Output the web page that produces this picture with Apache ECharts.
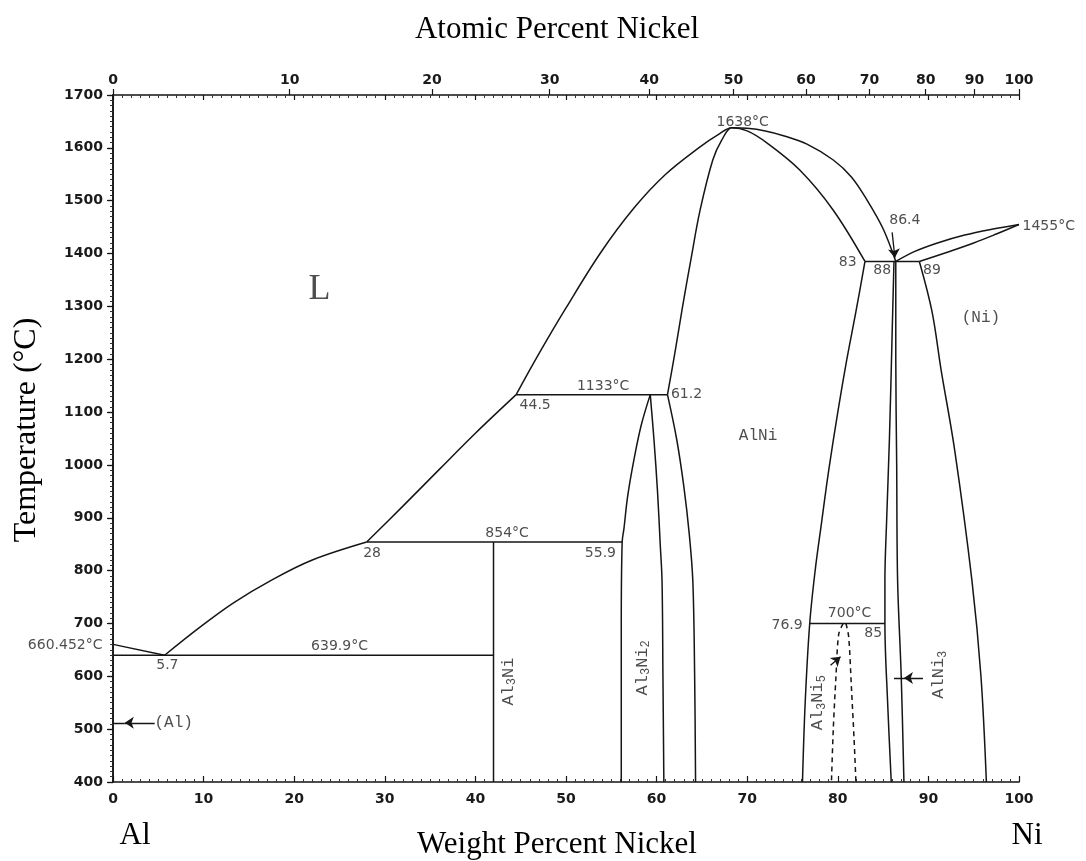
<!DOCTYPE html>
<html><head><meta charset="utf-8">
<script src="https://cdn.jsdelivr.net/npm/echarts@6/dist/echarts.min.js"></script>
<style>html,body{margin:0;padding:0;background:#fff}#c{width:1086px;height:861px}</style>
</head><body><div id="c"></div>
<script>
// ---------- axis data ----------
const WT_MIN = 0, WT_MAX = 100, T_MIN = 400, T_MAX = 1700;
// Atomic-percent tick labels (top axis) and the weight-percent position of each
const atTickLabels = ['0','10','20','30','40','50','60','70','80','90','100'];
const atTickWt     = [0, 19.5, 35.2, 48.2, 59.2, 68.5, 76.5, 83.5, 89.7, 95.1, 100];

// ---------- phase boundaries (wt% Ni, °C) ----------
const alLiquidus     = [[0,660.452],[5.7,639.9]];
const eutectic640    = [[0,639.9],[42,639.9]];
const al3NiLine      = [[42,400],[42,854]];
const peritectic854  = [[28,854],[56.2,854]];
const peritectic1133 = [[44.5,1133],[61.2,1133]];
const liquidusLow    = [[5.7,639.9],[9.6,693],[13.3,739],[17.5,782],[22,820],[28,854]];
const liquidusMid    = [[28,854],[32,922],[36.1,993],[40,1060],[44.5,1133]];
const liquidusTop    = [[44.5,1133],[47,1210],[50,1297],[53.8,1401],[57.5,1486],[61,1550],[64.8,1602],[66.8,1625],
                        [68.3,1638],[70,1637],[72,1632],[74,1623],[76.6,1607],[79.5,1577],[81.5,1545],[83.2,1502],[85,1447],[86.4,1385]];
const alNiSolidus    = [[61.2,1133],[62,1210],[62.8,1293],[63.8,1390],[64.8,1482],[66.2,1577],[67.2,1615],[68.3,1638],
                        [70,1632],[72.2,1609],[75.8,1558],[79.5,1482],[83,1385]];
const alNiLeftLow    = [[61.2,1133],[62.2,1050],[63.0,960],[63.6,870],[64.0,780],[64.2,600],[64.3,400]];
const al3Ni2Left     = [[59.3,1133],[58.3,1075],[57.5,1010],[56.8,940],[56.4,880],[56.2,854],[56.1,700],[56.1,400]];
const al3Ni2Right    = [[59.3,1133],[59.7,1050],[60.1,950],[60.4,850],[60.6,780],[60.7,600],[60.8,400]];
const peritectic1385 = [[83,1385],[89,1385]];
const alNiRightLow   = [[83,1385],[82,1290],[81,1200],[80,1100],[79,990],[78.2,890],[77.5,800],[76.9,700],[76.4,550],[76.1,400]];
const alNi3Left      = [[86.2,1385],[86.0,1250],[85.7,1050],[85.4,900],[85.2,782],[85.2,700],[85.5,550],[85.9,400]];
const alNi3Right     = [[86.4,1385],[86.4,1200],[86.5,1000],[86.6,782],[87.0,600],[87.3,400]];
const niSolvus       = [[89,1385],[90.4,1290],[91.4,1180],[92.9,1028],[94.8,782],[95.8,600],[96.4,400]];
const niLiquidus     = [[86.4,1385],[88.5,1404],[91,1420],[94,1435],[97,1446],[100,1455]];
const niSolidus      = [[89,1385],[92,1402],[95,1420],[97.5,1437],[100,1455]];
const eutectoid700   = [[76.9,700],[85.2,700]];
const al3Ni5Left     = [[80.6,700],[80.1,680],[79.8,600],[79.5,500],[79.3,400]];
const al3Ni5Right    = [[80.9,700],[81.2,675],[81.5,580],[81.8,480],[82.0,400]];

// ---------- annotations ----------
const tempLabels = [['1638°C',69.5,1648],['1133°C',54.1,1149],['854°C',43.5,871],['639.9°C',25,656],['700°C',81.3,720]];
const compLabels = [['5.7',6.0,620],['28',28.6,833],['44.5',46.6,1113],['61.2',63.3,1133],['55.9',53.8,833],
                    ['76.9',74.4,697],['85',83.9,682],['83',81.1,1384],['88',84.9,1369],['86.4',87.4,1463],['89',90.4,1369]];
const rightOfAxisLabels = [['1455°C',100,1452]];
const leftOfAxisLabels  = [['660.452°C',0,658]];
const phaseLabels = [['(Ni)',95.8,1278],['AlNi',71.2,1055],['(Al)',6.7,512]];
const bigLabels   = [['L',22.8,1331]];
const rotatedPhaseLabels = [[['Al','3','Ni',''],43.6,590],[['Al','3','Ni','2'],58.4,616],[['Al','3','Ni','5'],77.8,550],[['Al','Ni','3',''],91.1,603]];
const arrows = [[[4.6,512],[1.3,512]],[[86.0,1440],[86.3,1392]],[[79.2,621],[80.3,637]],[[89.4,597],[87.3,597]]];
const plainSegments = [[[1.3,512],[0,512]],[[87.3,597],[86.2,597]]];

// ---------- build ----------
const INK = '#151515';
const sansFont = '"DejaVu Sans", "Liberation Sans", Arial, sans-serif';
const monoFont = '"Liberation Mono", "DejaVu Sans Mono", monospace';
const serifFont = '"Liberation Serif", "Times New Roman", serif';

const solidCurves = [alLiquidus, eutectic640, al3NiLine, peritectic854, peritectic1133, liquidusLow, liquidusMid,
  liquidusTop, alNiSolidus, alNiLeftLow, al3Ni2Left, al3Ni2Right, peritectic1385,
  alNiRightLow, alNi3Left, alNi3Right, niSolvus, niLiquidus, niSolidus, eutectoid700];
const dashedCurves = [al3Ni5Left, al3Ni5Right];

const series = [];
solidCurves.forEach(d => series.push({type:'line', data:d, symbol:'none', smooth:0.35, clip:false, silent:true,
  lineStyle:{color:INK, width:1.5}, z:3}));
dashedCurves.forEach(d => series.push({type:'line', data:d, symbol:'none', smooth:0.3, clip:false, silent:true,
  lineStyle:{color:INK, width:1.5, type:[5,4]}, z:3}));

function labelSeries(arr, label) {
  return {type:'scatter', symbolSize:1, itemStyle:{color:'rgba(0,0,0,0)'}, clip:false, silent:true, z:5,
    data: arr.map(a => ({name:a[0], value:[a[1], a[2]]})),
    label: Object.assign({show:true, formatter: p => p.name, color:'#222'}, label)};
}
series.push(labelSeries(tempLabels, {position:'inside', fontFamily:sansFont, fontSize:14}));
series.push(labelSeries(compLabels, {position:'inside', fontFamily:sansFont, fontSize:14}));
series.push(labelSeries(rightOfAxisLabels, {position:'right', distance:3, fontFamily:sansFont, fontSize:14}));
series.push(labelSeries(leftOfAxisLabels, {position:'left', distance:10, fontFamily:sansFont, fontSize:14}));
series.push(labelSeries(phaseLabels, {position:'inside', fontFamily:monoFont, fontSize:16}));
series.push(labelSeries(bigLabels, {position:'inside', fontFamily:serifFont, fontSize:36}));
series.push({type:'scatter', symbolSize:1, itemStyle:{color:'rgba(0,0,0,0)'}, clip:false, silent:true, z:5,
  data: rotatedPhaseLabels.map(a => ({name:a[0].join('|'), value:[a[1], a[2]]})),
  label:{show:true, position:'inside', rotate:90, color:'#222',
    formatter: p => { const t = p.name.split('|');
      return (t[0]?'{a|'+t[0]+'}':'') + (t[1]? (t[0]==='Al'&&t[1]==='3' ? '{s|'+t[1]+'}' : '{a|'+t[1]+'}') : '')
           + (t[2]? (t[2]==='3' ? '{s|3}' : '{a|'+t[2]+'}') : '') + (t[3]?'{s|'+t[3]+'}':''); },
    rich:{a:{fontFamily:monoFont, fontSize:17, lineHeight:20, color:'#222'},
          s:{fontFamily:monoFont, fontSize:12, lineHeight:12, verticalAlign:'bottom', color:'#222'}}}});
series.push({type:'lines', coordinateSystem:'cartesian2d', silent:true, z:4,
  symbol:['none','arrow'], symbolSize:[6,9], lineStyle:{color:INK, width:1.3, opacity:1},
  data: arrows.map(c => ({coords:c}))});
series.push({type:'lines', coordinateSystem:'cartesian2d', silent:true, z:4,
  symbol:['none','none'], lineStyle:{color:INK, width:1.3, opacity:1},
  data: plainSegments.map(c => ({coords:c}))});

const tickFont = {fontFamily:'"DejaVu Sans", sans-serif', fontWeight:'bold', fontSize:14, color:'#1a1a1a', formatter: v => String(v)};
const axisLineStyle = {color:INK, width:1.6};

const option = {
  animation:false,
  backgroundColor:'#fff',
  grid:{left:113, right:67, top:95, bottom:79, containLabel:false},
  xAxis:[
    {type:'value', position:'bottom', min:WT_MIN, max:WT_MAX, interval:10,
     axisLine:{lineStyle:axisLineStyle}, axisTick:{inside:true, length:6, lineStyle:{color:INK, width:1.2}},
     minorTick:{show:true, splitNumber:10, length:3, lineStyle:{color:'#333'}}, splitLine:{show:false},
     axisLabel:Object.assign({margin:10}, tickFont)},
    {type:'value', position:'top', min:WT_MIN, max:WT_MAX, interval:10,
     axisLine:{lineStyle:axisLineStyle}, axisTick:{inside:true, length:5, lineStyle:{color:INK, width:1.2}},
     minorTick:{show:true, splitNumber:10, length:3, lineStyle:{color:'#333'}}, splitLine:{show:false},
     axisLabel:{show:false}},
    {type:'value', position:'top', min:WT_MIN, max:WT_MAX,
     axisLine:{show:false}, splitLine:{show:false},
     axisTick:{show:true, inside:false, length:6, customValues:atTickWt, lineStyle:{color:INK, width:1.2}},
     axisLabel:Object.assign({}, tickFont, {margin:8, customValues:atTickWt,
       formatter: v => { let best=0; atTickWt.forEach((w,i)=>{ if (Math.abs(w-v) < Math.abs(atTickWt[best]-v)) best=i; }); return atTickLabels[best]; }})}
  ],
  yAxis:[
    {type:'value', position:'left', min:T_MIN, max:T_MAX, interval:100,
     axisLine:{lineStyle:axisLineStyle}, axisTick:{inside:false, length:6, lineStyle:{color:INK, width:1.2}},
     minorTick:{show:true, splitNumber:10, length:3, lineStyle:{color:'#333'}}, splitLine:{show:false},
     axisLabel:Object.assign({margin:10}, tickFont)},
    {type:'value', position:'right', min:T_MIN, max:T_MAX, interval:100,
     axisLine:{lineStyle:axisLineStyle}, axisTick:{inside:true, length:5, lineStyle:{color:INK, width:1.2}},
     minorTick:{show:true, splitNumber:10, length:3, lineStyle:{color:'#333'}}, splitLine:{show:false},
     axisLabel:{show:false}}
  ],
  graphic:[
    {type:'text', x:557, y:30, style:{text:'Atomic Percent Nickel', font:'31px '+serifFont, fill:'#000', textAlign:'center', textVerticalAlign:'middle'}},
    {type:'text', x:557, y:845, style:{text:'Weight Percent Nickel', font:'31px '+serifFont, fill:'#000', textAlign:'center', textVerticalAlign:'middle'}},
    {type:'text', x:135, y:836, style:{text:'Al', font:'31px '+serifFont, fill:'#000', textAlign:'center', textVerticalAlign:'middle'}},
    {type:'text', x:1027, y:836, style:{text:'Ni', font:'31px '+serifFont, fill:'#000', textAlign:'center', textVerticalAlign:'middle'}},
    {type:'text', x:27, y:430, rotation:Math.PI/2, style:{text:'Temperature (°C)', font:'32px '+serifFont, fill:'#000', textAlign:'center', textVerticalAlign:'middle'}}
  ],
  series: series.map(s => Object.assign({xAxisIndex:0, yAxisIndex:0}, s))
};
const chart = echarts.init(document.getElementById('c'), null, {renderer:'canvas'});
chart.setOption(option);
</script></body></html>
